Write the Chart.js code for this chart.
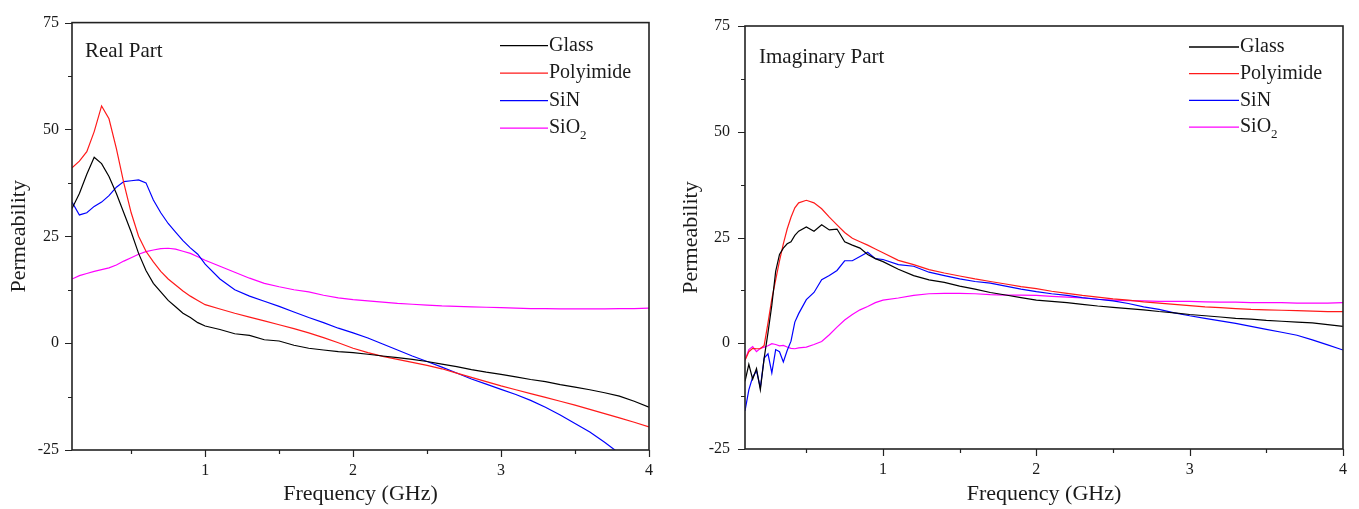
<!DOCTYPE html>
<html>
<head>
<meta charset="utf-8">
<script src="https://cdn.jsdelivr.net/npm/chart.js@4.4.1/dist/chart.umd.min.js"></script>
<style>
  html, body { margin: 0; padding: 0; background: #fff; }
  body { width: 1359px; height: 509px; position: relative; overflow: hidden; }
  .panel { position: absolute; top: 0; height: 509px; }
  #realBox { left: 0; width: 680px; }
  #imagBox { left: 680px; width: 679px; }
</style>
</head>
<body>
<div class="panel" id="realBox"><canvas id="realChart"></canvas></div>
<div class="panel" id="imagBox"><canvas id="imagChart"></canvas></div>
<script>
const seriesNames = ['Glass', 'Polyimide', 'SiN', 'SiO₂'];
const seriesColors = ['#000000', '#ff1a1a', '#0000ff', '#ff00ff'];

const yTickLabels = [-25, 0, 25, 50, 75];
const xTickLabels = [1, 2, 3, 4];

// real part (left panel)
const realFreq = [0.1, 0.15, 0.2, 0.25, 0.3, 0.35, 0.4, 0.45, 0.5, 0.55, 0.6, 0.65, 0.7, 0.75, 0.8, 0.85, 0.9, 0.95, 1.0,
  1.1, 1.2, 1.3, 1.4, 1.5, 1.6, 1.7, 1.8, 1.9, 2.0, 2.1, 2.2, 2.3, 2.4, 2.5, 2.6, 2.7, 2.8, 2.9, 3.0,
  3.1, 3.2, 3.3, 3.4, 3.5, 3.6, 3.7, 3.8, 3.9, 4.0];
const realGlass = [31.5, 35, 39.5, 43.5, 42, 39, 35, 30.5, 26, 21, 17, 14, 12, 10, 8.5, 7, 6, 4.8, 4,
  3.2, 2.2, 1.8, 0.8, 0.5, -0.5, -1.2, -1.6, -2, -2.2, -2.6, -3, -3.4, -3.8, -4.3, -4.9, -5.5, -6.2, -6.8, -7.3,
  -7.9, -8.5, -9, -9.7, -10.3, -10.9, -11.6, -12.4, -13.6, -15];
const realPolyimide = [41, 42.6, 44.8, 49.5, 55.5, 52.5, 45.5, 37.5, 30.5, 25, 21.5, 19, 16.8, 15, 13.6, 12.2, 11, 10, 9,
  8, 7, 6.1, 5.2, 4.3, 3.4, 2.4, 1.3, 0.1, -1.2, -2.2, -3.1, -3.8, -4.5, -5.2, -6, -7, -8, -9, -10,
  -10.9, -11.8, -12.7, -13.6, -14.5, -15.5, -16.5, -17.5, -18.5, -19.6];
const realSiN = [33, 30, 30.5, 32, 33, 34.5, 36.5, 37.8, 38, 38.2, 37.5, 33.5, 30.5, 28, 26, 24, 22.3, 20.8, 18.5,
  15, 12.5, 11, 9.8, 8.6, 7.3, 6, 4.8, 3.5, 2.4, 1.2, -0.2, -1.6, -3, -4.3, -5.6, -7, -8.4, -9.6, -10.8,
  -12, -13.4, -15, -16.8, -18.8, -20.8, -23.2, -25.8, -28, -30.5];
const realSiO2 = [15, 15.8, 16.3, 16.8, 17.2, 17.6, 18.3, 19.2, 20, 20.8, 21.4, 21.8, 22.1, 22.2, 22, 21.5, 21, 20.2, 19.4,
  18, 16.6, 15.2, 14, 13.2, 12.5, 12, 11.2, 10.6, 10.2, 9.9, 9.6, 9.3, 9.1, 8.9, 8.7, 8.6, 8.5, 8.4, 8.3,
  8.2, 8.1, 8.1, 8, 8, 8, 8, 8.1, 8.1, 8.2];

// imaginary part (right panel)
const imagFreq = [0.1, 0.125, 0.15, 0.175, 0.2, 0.225, 0.25, 0.275, 0.3, 0.325, 0.35, 0.375, 0.4, 0.425, 0.45,
  0.5, 0.55, 0.6, 0.65, 0.7, 0.75, 0.8, 0.85, 0.9, 0.95, 1.0,
  1.1, 1.2, 1.3, 1.4, 1.5, 1.6, 1.7, 1.8, 1.9, 2.0, 2.1, 2.2, 2.3, 2.4, 2.5, 2.6, 2.7, 2.8, 2.9, 3.0,
  3.1, 3.2, 3.3, 3.4, 3.5, 3.6, 3.7, 3.8, 3.9, 4.0];
const imagGlass = [-9, -5, -8.5, -6, -11, -3.5, 2.5, 9, 17, 21, 22.5, 23.5, 24, 25.5, 26.5,
  27.5, 26.5, 28, 26.8, 27, 24, 23.2, 22.5, 21, 20, 19.3,
  17.5, 16, 15, 14.4, 13.5, 12.8, 12, 11.4, 10.8, 10.2, 9.9, 9.6, 9.2, 8.8, 8.5, 8.2, 7.9, 7.5, 7.2, 6.8,
  6.5, 6.2, 5.9, 5.7, 5.4, 5.2, 5, 4.8, 4.4, 4];
const imagPolyimide = [-4, -2, -1.2, -1.3, -1.3, -0.5, 4.8, 10.5, 15, 19.5, 23.5, 27, 29.8, 32, 33.2,
  33.8, 33.2, 31.8, 29.8, 28, 26.2, 24.8, 24, 23.2, 22.3, 21.4,
  19.6, 18.6, 17.4, 16.6, 15.9, 15.2, 14.6, 14, 13.4, 12.9, 12.3, 11.8, 11.3, 10.9, 10.5, 10.2, 9.8, 9.5, 9.2, 8.9,
  8.6, 8.4, 8.2, 8, 7.9, 7.8, 7.7, 7.6, 7.5, 7.5];
const imagSiN = [-16, -11, -8, -6.5, -10.5, -3.5, -2.5, -7, -1.5, -2, -4.4, -1.7, 0.5, 5, 7,
  10.3, 12, 15, 16, 17.2, 19.5, 19.5, 20.5, 21.5, 20, 19.8,
  18.6, 18.2, 16.8, 16, 15.2, 14.6, 14.2, 13.5, 12.8, 12.2, 11.7, 11.3, 10.8, 10.4, 10, 9.4, 8.6, 8, 7.2, 6.5,
  5.9, 5.3, 4.7, 4, 3.3, 2.6, 1.9, 0.8, -0.4, -1.6];
const imagSiO2 = [-4, -1.5, -0.8, -2, -1.2, -0.9, -0.6, -0.1, -0.3, -0.6, -0.5, -0.9, -1.2, -1.3, -1.1,
  -0.9, -0.3, 0.4, 2, 3.8, 5.5, 6.8, 7.9, 8.7, 9.6, 10.2,
  10.7, 11.3, 11.7, 11.8, 11.8, 11.7, 11.5, 11.4, 11.4, 11.3, 11.1, 10.9, 10.7, 10.4, 10.2, 10.1, 10, 9.9, 9.9, 9.9,
  9.8, 9.7, 9.7, 9.6, 9.6, 9.6, 9.5, 9.5, 9.5, 9.6];

const FONT = '"Liberation Serif", "Times New Roman", serif';
const INK = '#1a1a1a';

// frame, tick marks, panel label and legend
const framePlugin = {
  id: 'frame',
  afterDraw(chart, args, opts) {
    const ctx = chart.ctx;
    const a = chart.chartArea;
    const x = chart.scales.x, y = chart.scales.y;
    ctx.save();
    ctx.strokeStyle = '#222';
    ctx.lineWidth = 1.2;
    ctx.beginPath();
    y.ticks.forEach(t => {
      const py = Math.round(y.getPixelForValue(t.value)) + 0.5;
      const len = yTickLabels.includes(t.value) ? 7 : 4;
      ctx.moveTo(a.left - len, py);
      ctx.lineTo(a.left, py);
    });
    x.ticks.forEach(t => {
      const px = Math.round(x.getPixelForValue(t.value)) + 0.5;
      const len = xTickLabels.includes(t.value) ? 7 : 4;
      ctx.moveTo(px, a.bottom);
      ctx.lineTo(px, a.bottom + len);
    });
    ctx.stroke();
    ctx.lineWidth = 1.6;
    ctx.strokeRect(a.left, a.top, a.right - a.left, a.bottom - a.top);

    ctx.fillStyle = INK;
    ctx.textBaseline = 'middle';
    ctx.font = '21px ' + FONT;
    ctx.fillText(opts.label, a.left + opts.labelDx, a.top + opts.labelDy);

    chart.data.datasets.forEach((ds, i) => {
      const ly = a.top + opts.legendDy + i * opts.legendGap;
      const x1 = a.right - opts.legendDx;
      const x2 = x1 + opts.legendLine;
      ctx.strokeStyle = ds.borderColor;
      ctx.lineWidth = 1.3;
      ctx.beginPath();
      ctx.moveTo(x1, ly);
      ctx.lineTo(x2, ly);
      ctx.stroke();
      ctx.fillStyle = INK;
      let label = ds.label;
      let sub = '';
      if (label.endsWith('₂')) { label = label.slice(0, -1); sub = '2'; }
      ctx.font = '20px ' + FONT;
      ctx.fillText(label, x2 + 1, ly);
      if (sub) {
        const w = ctx.measureText(label).width;
        ctx.font = '13px ' + FONT;
        ctx.fillText(sub, x2 + 1 + w, ly + 7);
      }
    });
    ctx.restore();
  }
};

function makeChart(canvasId, freq, seriesValues, layout) {
  const datasets = seriesValues.map((vals, i) => ({
    label: seriesNames[i],
    data: freq.map((f, j) => ({ x: f, y: vals[j] })),
    borderColor: seriesColors[i],
    backgroundColor: seriesColors[i],
    borderWidth: 1.2,
    pointRadius: 0,
    tension: 0,
    fill: false
  }));

  return new Chart(document.getElementById(canvasId), {
    type: 'line',
    data: { datasets: datasets },
    plugins: [framePlugin],
    options: {
      responsive: true,
      maintainAspectRatio: false,
      animation: false,
      layout: { padding: layout.padding },
      plugins: {
        legend: { display: false },
        tooltip: { enabled: false },
        frame: layout.frame
      },
      scales: {
        x: {
          type: 'linear',
          min: 0.1,
          max: 4,
          afterBuildTicks: scale => {
            const marks = [];
            for (let v = 0.5; v <= 4; v += 0.5) marks.push({ value: v });
            scale.ticks = marks;
          },
          afterFit: scale => { scale.height = layout.xHeight; },
          grid: { display: false, drawTicks: false },
          border: { display: false },
          ticks: {
            padding: 11,
            maxRotation: 0,
            autoSkip: false,
            color: INK,
            font: { family: FONT, size: 16 },
            callback: v => xTickLabels.includes(v) ? String(v) : ''
          },
          title: {
            display: true,
            text: 'Frequency (GHz)',
            color: INK,
            font: { family: FONT, size: 22 },
            padding: { top: 0, bottom: 2 }
          }
        },
        y: {
          min: -25,
          max: 75,
          ticks: {
            stepSize: 12.5,
            padding: layout.yTickPad,
            autoSkip: false,
            color: INK,
            font: { family: FONT, size: 16 },
            callback: v => yTickLabels.includes(v) ? String(v) : ''
          },
          afterFit: scale => { scale.width = layout.yWidth; },
          grid: { display: false, drawTicks: false },
          border: { display: false },
          title: {
            display: true,
            text: 'Permeability',
            color: INK,
            font: { family: FONT, size: 22, lineHeight: 1 },
            padding: { top: layout.yTitlePad, bottom: 0 }
          }
        }
      }
    }
  });
}

makeChart('realChart', realFreq, [realGlass, realPolyimide, realSiN, realSiO2], {
  padding: { left: 0, right: 31, top: 18, bottom: 0 },
  yWidth: 72,
  xHeight: 59,
  yTickPad: 13,
  yTitlePad: 8,
  frame: { label: 'Real Part', labelDx: 13, labelDy: 29, legendDx: 149, legendLine: 48, legendDy: 23, legendGap: 27.5 }
});

makeChart('imagChart', imagFreq, [imagGlass, imagPolyimide, imagSiN, imagSiO2], {
  padding: { left: 0, right: 16, top: 26, bottom: 0 },
  yWidth: 65,
  xHeight: 60,
  yTickPad: 15,
  yTitlePad: 0,
  frame: { label: 'Imaginary Part', labelDx: 14, labelDy: 31, legendDx: 154, legendLine: 50, legendDy: 21, legendGap: 26.7 }
});
</script>
</body>
</html>
